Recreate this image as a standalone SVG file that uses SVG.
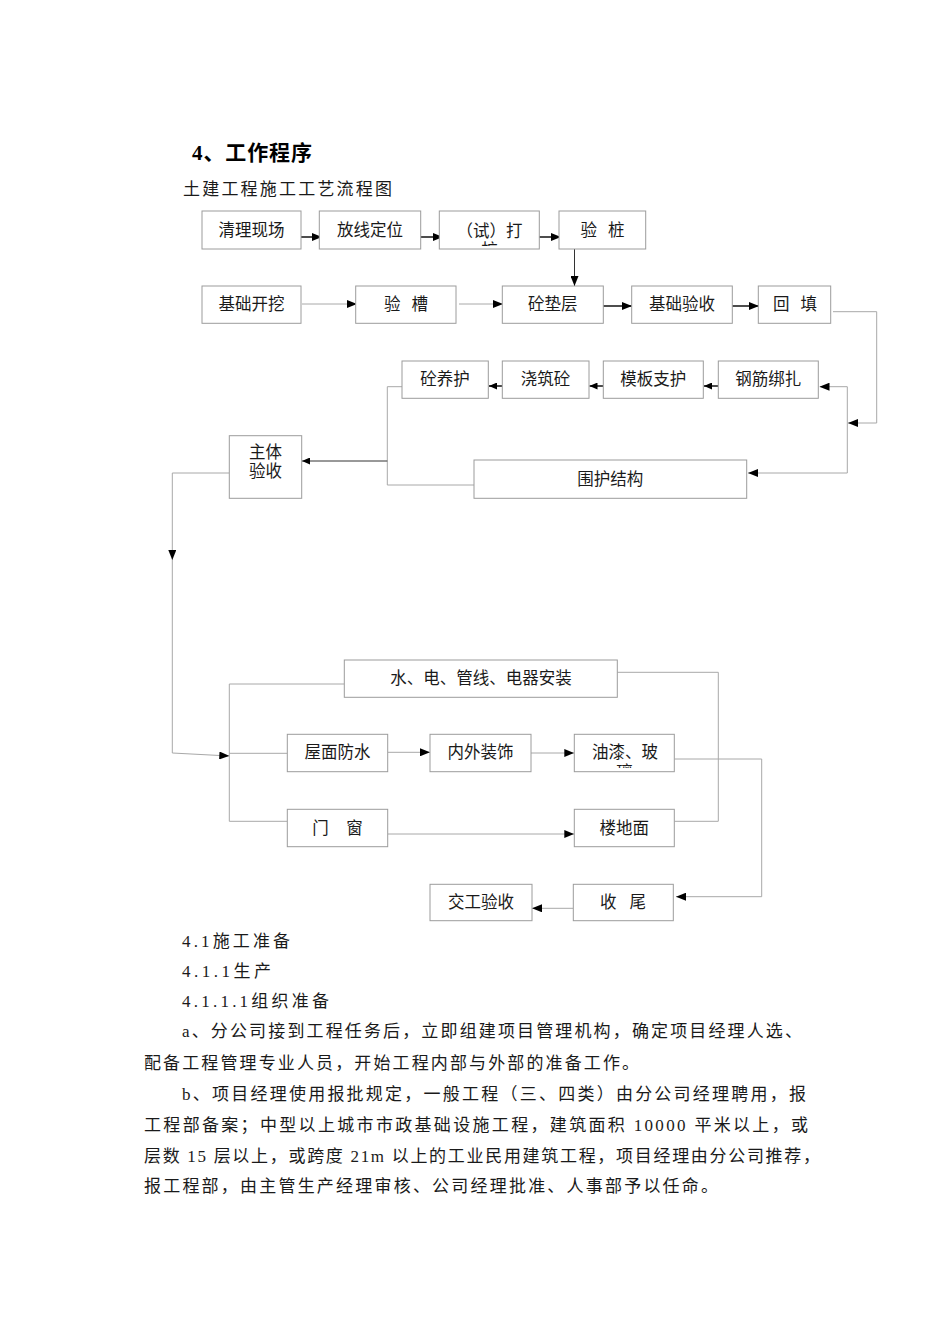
<svg xmlns="http://www.w3.org/2000/svg" width="950" height="1344" viewBox="0 0 950 1344">
<style>
  .bx{fill:#fff;stroke:#9c9c9c;stroke-width:1}
  .t{font-family:"Liberation Serif","Noto Sans CJK SC",serif;font-size:16.5px;fill:#1a1a1a;text-anchor:middle;dominant-baseline:central}
  .sp{word-spacing:7px}
  .ln{fill:none;stroke:#a8a8a8;stroke-width:1}
  .bk{fill:none;stroke:#000;stroke-width:1.4}
  .dk{fill:none;stroke:#333;stroke-width:1}
  .body{font-family:"Liberation Serif","Noto Sans CJK SC",serif;font-size:17px;fill:#1a1a1a}
</style>
<defs>
  <marker id="ah" markerWidth="10" markerHeight="8" refX="10" refY="4" orient="auto" markerUnits="userSpaceOnUse">
    <path d="M0,0 L10,4 L0,8 z" fill="#000"/>
  </marker>
  <marker id="as" markerWidth="8" markerHeight="7" refX="8" refY="3.5" orient="auto" markerUnits="userSpaceOnUse">
    <path d="M0,0 L8,3.5 L0,7 z" fill="#000"/>
  </marker>
  <clipPath id="c1"><rect x="439" y="211" width="100" height="35"/></clipPath>
  <clipPath id="c2"><rect x="574" y="734" width="100" height="34"/></clipPath>
</defs>
<rect width="950" height="1344" fill="#fff"/>

<text x="192" y="160" font-family="Liberation Serif, Noto Sans CJK SC, serif" font-size="21" font-weight="bold" fill="#000" textLength="120" lengthAdjust="spacing">4、工作程序</text>
<text x="183" y="195" class="body" textLength="209" lengthAdjust="spacing">土建工程施工工艺流程图</text>

<g id="connectors">
  <path class="bk" d="M296,237 H322" marker-end="url(#ah)"/>
  <path class="bk" d="M416,237 H443" marker-end="url(#ah)"/>
  <path class="bk" d="M532,237 H561" marker-end="url(#ah)"/>
  <path class="dk" d="M574.5,249 V286" marker-end="url(#ah)"/>
  <path class="ln" d="M302,304 H357" marker-end="url(#ah)"/>
  <path class="ln" d="M459,304 H503" marker-end="url(#ah)"/>
  <path class="bk" d="M603,306 H632" marker-end="url(#ah)"/>
  <path class="bk" d="M732,306 H759" marker-end="url(#ah)"/>
  <path class="ln" d="M833,311.7 H876.7 V423 H848" marker-end="url(#ah)"/>
  <path class="ln" d="M847.3,430 V386.7 H819.5" marker-end="url(#ah)"/>
  <path class="ln" d="M847.3,430 V473 H748" marker-end="url(#ah)"/>
  <path class="bk" d="M718,386 H704" marker-end="url(#as)"/>
  <path class="bk" d="M603,386 H589.5" marker-end="url(#as)"/>
  <path class="bk" d="M502,386 H489" marker-end="url(#as)"/>
  <path class="ln" d="M402,386.7 H387.3 V485 H474"/>
  <path class="dk" d="M387.3,461 H302" marker-end="url(#as)"/>
  <path class="ln" d="M229,473 H172.3 V560" marker-end="url(#ah)"/>
  <path class="ln" d="M172.3,560 V753 L229.3,756" marker-end="url(#ah)"/>
  <path class="ln" d="M229.3,684 V821.3"/>
  <path class="ln" d="M229.3,684 H344.3"/>
  <path class="ln" d="M229.3,753.3 H287.3"/>
  <path class="ln" d="M229.3,821.3 H287.3"/>
  <path class="ln" d="M388,752.3 H430" marker-end="url(#ah)"/>
  <path class="ln" d="M531,753 H574.3" marker-end="url(#ah)"/>
  <path class="ln" d="M388,834 H574.3" marker-end="url(#ah)"/>
  <path class="ln" d="M617.3,672.3 H718.3 V821.3 H674.3"/>
  <path class="ln" d="M674.3,759 H761.7 V896.7 H676" marker-end="url(#ah)"/>
  <path class="ln" d="M573,908.3 H532" marker-end="url(#ah)"/>
</g>

<g id="n1"><rect class="bx" x="202" y="211" width="99" height="38"/><text class="t" x="251.5" y="230.5">清理现场</text></g>
<g id="n2"><rect class="bx" x="319.3" y="211" width="101.4" height="38"/><text class="t" x="370" y="230.5">放线定位</text></g>
<g id="n3"><rect class="bx" x="439.3" y="211" width="100" height="38"/>
  <g clip-path="url(#c1)"><text class="t" x="489.5" y="231">（试）打</text><text class="t" x="489.5" y="250.5">桩</text></g></g>
<g id="n4"><rect class="bx" x="559" y="211" width="86.7" height="38"/><text class="t sp" x="602.5" y="230.5" xml:space="preserve">验 桩</text></g>

<g id="n5"><rect class="bx" x="202" y="286" width="99" height="37.3"/><text class="t" x="251.5" y="304.5">基础开挖</text></g>
<g id="n6"><rect class="bx" x="355.7" y="286" width="100.3" height="37.3"/><text class="t sp" x="406" y="304.5" xml:space="preserve">验 槽</text></g>
<g id="n7"><rect class="bx" x="502.3" y="286" width="101" height="37.3"/><text class="t" x="552.8" y="304.5">砼垫层</text></g>
<g id="n8"><rect class="bx" x="631.7" y="286" width="100.6" height="37.3"/><text class="t" x="682" y="304.5">基础验收</text></g>
<g id="n9"><rect class="bx" x="758.3" y="286" width="72.4" height="37.3"/><text class="t sp" x="795" y="304.5" xml:space="preserve">回 填</text></g>

<g id="n10"><rect class="bx" x="402" y="361" width="86.3" height="37.3"/><text class="t" x="445" y="379">砼养护</text></g>
<g id="n11"><rect class="bx" x="502.3" y="361" width="86.7" height="37.3"/><text class="t" x="545.6" y="379">浇筑砼</text></g>
<g id="n12"><rect class="bx" x="603.3" y="361" width="100" height="37.3"/><text class="t" x="653.3" y="379">模板支护</text></g>
<g id="n13"><rect class="bx" x="718.3" y="361" width="100" height="37.3"/><text class="t" x="768.3" y="379">钢筋绑扎</text></g>

<g id="n14"><rect class="bx" x="229.3" y="435.7" width="72.4" height="62.6"/><text class="t" x="265.5" y="452.5">主体</text><text class="t" x="265.5" y="471.5">验收</text></g>
<g id="n15"><rect class="bx" x="474" y="460" width="272.7" height="38.3"/><text class="t" x="610.3" y="479">围护结构</text></g>

<g id="n16"><rect class="bx" x="344.3" y="660" width="273" height="37.3"/><text class="t" x="481" y="678">水、电、管线、电器安装</text></g>
<g id="n17"><rect class="bx" x="287.3" y="734.3" width="100.4" height="37.4"/><text class="t" x="337.5" y="752.5">屋面防水</text></g>
<g id="n18"><rect class="bx" x="430" y="734.3" width="101" height="37.4"/><text class="t" x="480.5" y="752.5">内外装饰</text></g>
<g id="n19"><rect class="bx" x="574.3" y="734.3" width="100" height="37.4"/>
  <g clip-path="url(#c2)"><text class="t" x="625" y="752.5">油漆、玻</text><text class="t" x="624.5" y="772">璃</text></g></g>
<g id="n20"><rect class="bx" x="287.3" y="809.3" width="100.4" height="37.4"/><text class="t" x="337.5" y="828" style="word-spacing:13.5px" xml:space="preserve">门 窗</text></g>
<g id="n21"><rect class="bx" x="574.3" y="809.3" width="100" height="37.4"/><text class="t" x="624.3" y="828">楼地面</text></g>
<g id="n22"><rect class="bx" x="573.3" y="884.3" width="100" height="36.4"/><text class="t" x="623" y="902.5" style="word-spacing:9px" xml:space="preserve">收 尾</text></g>
<g id="n23"><rect class="bx" x="430" y="884.3" width="102" height="36.4"/><text class="t" x="481" y="902.5">交工验收</text></g>

<g id="body">
  <text class="body" x="182" y="947" textLength="108" lengthAdjust="spacing">4.1施工准备</text>
  <text class="body" x="182" y="977" textLength="89" lengthAdjust="spacing">4.1.1生产</text>
  <text class="body" x="182" y="1007" textLength="147" lengthAdjust="spacing">4.1.1.1组织准备</text>
  <text class="body" x="182" y="1037" textLength="620" lengthAdjust="spacing">a、分公司接到工程任务后，立即组建项目管理机构，确定项目经理人选、</text>
  <text class="body" x="144" y="1069" textLength="495" lengthAdjust="spacing">配备工程管理专业人员，开始工程内部与外部的准备工作。</text>
  <text class="body" x="182" y="1100" textLength="624" lengthAdjust="spacing">b、项目经理使用报批规定，一般工程（三、四类）由分公司经理聘用，报</text>
  <text class="body" x="144" y="1131" textLength="664" lengthAdjust="spacing">工程部备案；中型以上城市市政基础设施工程，建筑面积 10000 平米以上，或</text>
  <text class="body" x="144" y="1162" textLength="676" lengthAdjust="spacing">层数 15 层以上，或跨度 21m 以上的工业民用建筑工程，项目经理由分公司推荐，</text>
  <text class="body" x="144" y="1192" textLength="574" lengthAdjust="spacing">报工程部，由主管生产经理审核、公司经理批准、人事部予以任命。</text>
</g>
</svg>
